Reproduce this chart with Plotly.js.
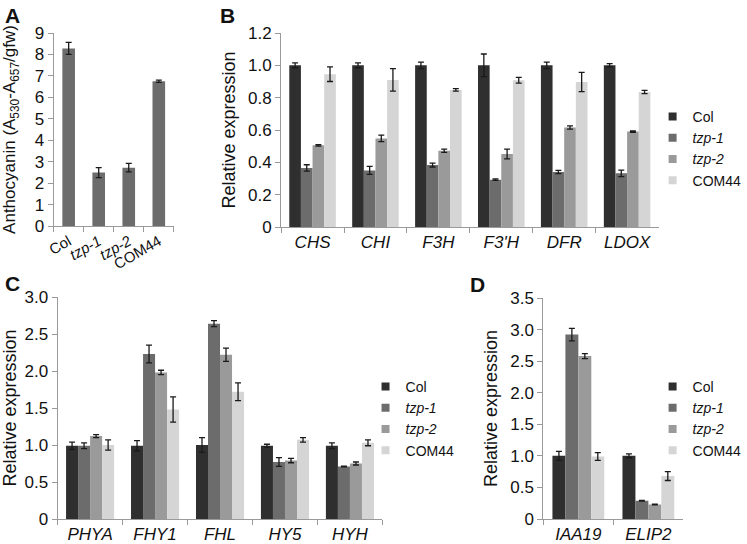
<!DOCTYPE html>
<html>
<head>
<meta charset="utf-8">
<script src="https://cdn.plot.ly/plotly-3.0.1.min.js"></script>
<style>
  html, body { margin: 0; padding: 0; background: #fff; }
  #chart { width: 747px; height: 544px; }
</style>
</head>
<body>
<div id="chart"></div>
<script>
// ── Data ──────────────────────────────────────────────────────
const GENOTYPES = ["Col", "tzp-1", "tzp-2", "COM44"];
const GENO_LABELS = ["Col", "<i>tzp-1</i>", "<i>tzp-2</i>", "COM44"];
const COLORS = ["#2f2f2f", "#6c6c6c", "#9a9a9a", "#d5d5d5"];

// Panel A – anthocyanin
const A_VALUES = [8.28, 2.49, 2.72, 6.75];
const A_ERR    = [0.28, 0.23, 0.20, 0.05];

// Panel B – flavonoid genes
const B_GENES = ["CHS", "CHI", "F3H", "F3'H", "DFR", "LDOX"];
const B_COL   = [1.0, 1.0, 1.0, 1.0, 1.0, 1.0];
const B_TZP1  = [0.365, 0.35, 0.383, 0.293, 0.34, 0.332];
const B_TZP2  = [0.505, 0.548, 0.472, 0.452, 0.615, 0.59];
const B_COM   = [0.945, 0.91, 0.848, 0.908, 0.897, 0.835];
const B_COL_ERR  = [0.015, 0.015, 0.02, 0.07, 0.02, 0.01];
const B_TZP1_ERR = [0.02, 0.025, 0.012, 0.005, 0.01, 0.02];
const B_TZP2_ERR = [0.005, 0.02, 0.01, 0.03, 0.01, 0.004];
const B_COM_ERR  = [0.045, 0.07, 0.008, 0.018, 0.06, 0.01];

// Panel C – light signalling genes
const C_GENES = ["PHYA", "FHY1", "FHL", "HY5", "HYH"];
const C_COL   = [0.99, 0.99, 1.0, 0.99, 0.99];
const C_TZP1  = [0.99, 2.23, 2.64, 0.77, 0.71];
const C_TZP2  = [1.12, 1.98, 2.22, 0.79, 0.75];
const C_COM   = [1.0, 1.48, 1.72, 1.07, 1.03];
const C_COL_ERR  = [0.05, 0.07, 0.10, 0.02, 0.04];
const C_TZP1_ERR = [0.04, 0.12, 0.04, 0.06, 0.005];
const C_TZP2_ERR = [0.02, 0.03, 0.09, 0.03, 0.02];
const C_COM_ERR  = [0.07, 0.17, 0.12, 0.03, 0.04];

// Panel D
const D_GENES = ["IAA19", "ELIP2"];
const D_COL   = [1.0, 1.0];
const D_TZP1  = [2.92, 0.29];
const D_TZP2  = [2.58, 0.23];
const D_COM   = [0.99, 0.68];
const D_COL_ERR  = [0.07, 0.03];
const D_TZP1_ERR = [0.10, 0.005];
const D_TZP2_ERR = [0.04, 0.005];
const D_COM_ERR  = [0.06, 0.07];

// ── Helpers ───────────────────────────────────────────────────
const FONT = "Liberation Sans, Arial, sans-serif";
const W = 747, H = 544;
const px = v => v / W;
const py = v => 1 - v / H;

function errBar(arr) {
  return { type: "data", array: arr, visible: true, color: "#1a1a1a", thickness: 1.3, width: 3 };
}

function groupTraces(genes, series, errs, xa, ya) {
  return series.map((vals, i) => ({
    type: "bar",
    name: GENO_LABELS[i],
    x: genes, y: vals,
    xaxis: xa, yaxis: ya,
    showlegend: false,
    marker: { color: COLORS[i] },
    error_y: errBar(errs[i]),
    hoverinfo: "skip",
  }));
}

// small square legend keys (bar keys are too large)
function legendKeys(xa, ya, legend) {
  return GENO_LABELS.map((name, i) => ({
    type: "scatter", mode: "markers",
    name: name,
    x: [null], y: [null],
    xaxis: xa, yaxis: ya,
    legend: legend,
    marker: { symbol: "square", size: 8, color: COLORS[i] },
    hoverinfo: "skip",
  }));
}

const traces = [
  {
    type: "bar",
    x: GENO_LABELS, y: A_VALUES,
    xaxis: "x", yaxis: "y",
    width: 0.42,
    showlegend: false,
    marker: { color: "#6c6c6c" },
    error_y: errBar(A_ERR),
    hoverinfo: "skip",
  },
  ...groupTraces(B_GENES, [B_COL, B_TZP1, B_TZP2, B_COM],
    [B_COL_ERR, B_TZP1_ERR, B_TZP2_ERR, B_COM_ERR], "x2", "y2"),
  ...groupTraces(C_GENES, [C_COL, C_TZP1, C_TZP2, C_COM],
    [C_COL_ERR, C_TZP1_ERR, C_TZP2_ERR, C_COM_ERR], "x3", "y3"),
  ...groupTraces(D_GENES, [D_COL, D_TZP1, D_TZP2, D_COM],
    [D_COL_ERR, D_TZP1_ERR, D_TZP2_ERR, D_COM_ERR], "x4", "y4"),
  ...legendKeys("x2", "y2", "legend"),
  ...legendKeys("x3", "y3", "legend2"),
  ...legendKeys("x4", "y4", "legend3"),
];

const xBase = {
  type: "category",
  showline: true, linecolor: "#9a9a9a", linewidth: 1,
  ticks: "outside", tickson: "boundaries", ticklen: 5, tickcolor: "#9a9a9a",
  showgrid: false, zeroline: false, automargin: false, fixedrange: true,
  tickfont: { family: FONT, size: 17, color: "#111", style: "italic" },
};
const yBase = {
  showline: true, linecolor: "#9a9a9a", linewidth: 1,
  ticks: "outside", ticklen: 5, tickcolor: "#9a9a9a",
  showgrid: false, zeroline: false, automargin: false, fixedrange: true,
  tickfont: { family: FONT, size: 17, color: "#111" },
  title: { text: "Relative expression", font: { family: FONT, size: 18, color: "#111" } },
};

function yTicks(max, step, dec) {
  const vals = [], text = [];
  for (let v = 0; v <= max + 1e-9; v += step) {
    vals.push(+v.toFixed(2));
    text.push(v === 0 ? "0" : v.toFixed(dec));
  }
  return { tickmode: "array", tickvals: vals, ticktext: text };
}

const legendBase = {
  font: { family: FONT, size: 14, color: "#111" },
  bgcolor: "rgba(0,0,0,0)",
  xanchor: "left", yanchor: "top",
  tracegroupgap: 0,
};

const layout = {
  width: W, height: H,
  margin: { l: 0, r: 0, t: 0, b: 0 },
  paper_bgcolor: "#fff", plot_bgcolor: "#fff",
  font: { family: FONT, color: "#111" },
  barmode: "group",
  bargap: 0.26,
  bargroupgap: 0,

  // Panel A
  xaxis: Object.assign({}, xBase, {
    domain: [px(54), px(175)], anchor: "y",
    tickangle: -30,
    tickfont: { family: FONT, size: 15, color: "#111" },
  }),
  yaxis: Object.assign({}, yBase, {
    domain: [py(226), py(33)], anchor: "x",
    range: [0, 9], ...yTicks(9, 1, 0),
    title: {
      text: "Anthocyanin (A<sub>530</sub>-A<sub>657</sub>/gfw)",
      font: { family: FONT, size: 17, color: "#111" },
      standoff: 14,
    },
  }),

  // Panel B
  xaxis2: Object.assign({}, xBase, { domain: [px(283), px(663)], anchor: "y2" }),
  yaxis2: Object.assign({}, yBase, {
    domain: [py(227), py(33)], anchor: "x2",
    range: [0, 1.2], ...yTicks(1.2, 0.2, 1),
  }),

  // Panel C
  xaxis3: Object.assign({}, xBase, { domain: [px(58), px(385)], anchor: "y3" }),
  yaxis3: Object.assign({}, yBase, {
    domain: [py(519), py(297)], anchor: "x3",
    range: [0, 3], ...yTicks(3, 0.5, 1),
  }),

  // Panel D
  xaxis4: Object.assign({}, xBase, { domain: [px(547), px(688)], anchor: "y4" }),
  yaxis4: Object.assign({}, yBase, {
    domain: [py(519), py(298)], anchor: "x4",
    range: [0, 3.5], ...yTicks(3.5, 0.5, 1),
  }),

  legend:  Object.assign({}, legendBase, { x: px(657), y: py(101) }),
  legend2: Object.assign({}, legendBase, { x: px(368), y: py(371) }),
  legend3: Object.assign({}, legendBase, { x: px(657), y: py(371) }),

  annotations: [
    ["A", 3, 2], ["B", 219, 2], ["C", 3, 270], ["D", 471, 271],
  ].map(([t, x, y]) => ({
    text: "<b>" + t + "</b>", xref: "paper", yref: "paper",
    x: px(x), y: py(y), xanchor: "left", yanchor: "top",
    showarrow: false, font: { family: FONT, size: 21, color: "#111" },
  })),
};

Plotly.newPlot("chart", traces, layout, { staticPlot: true, displayModeBar: false });
</script>
</body>
</html>
